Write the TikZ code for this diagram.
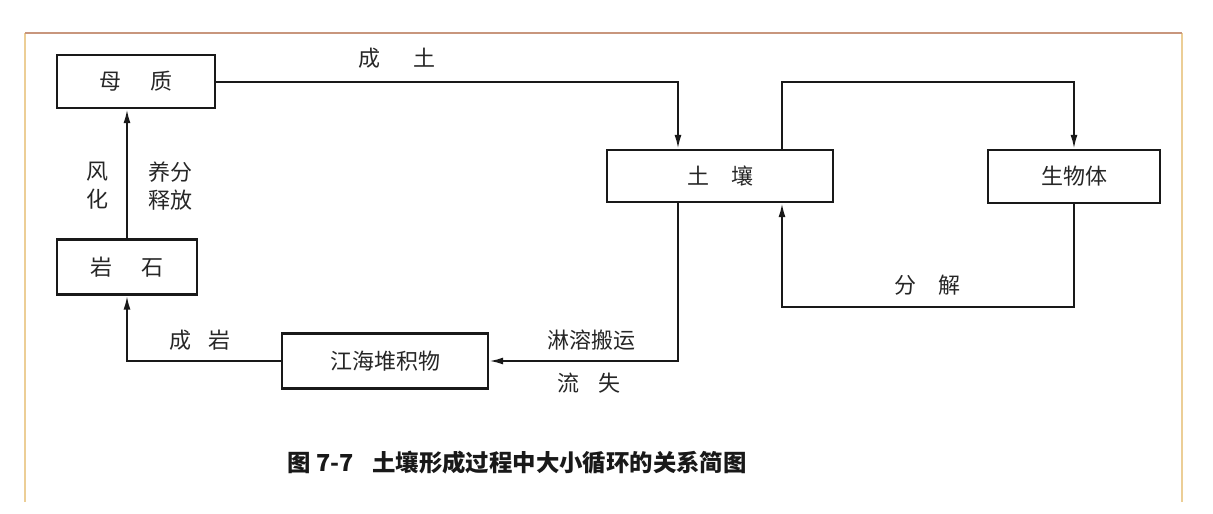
\documentclass[tikz,border=0pt]{standalone}
\usepackage{fontspec}
\usepackage{xcolor}
\usepackage{tikz}
\usetikzlibrary{arrows.meta,positioning,calc}
\setmainfont{Noto Sans CJK SC}
\newfontfamily\cjk{Noto Sans CJK SC}
\definecolor{frametop}{RGB}{200,150,125}
\definecolor{frameside}{RGB}{236,206,150}

\begin{document}
\begin{tikzpicture}[
  x=1pt, y=-1pt,
  box/.style={rectangle, draw=black!90, line width=2.4pt, fill=white, inner sep=0pt, font=\cjk\fontsize{22}{26}\selectfont, text=black!85},
  lbl/.style={font=\cjk\fontsize{22}{28}\selectfont, text=black!85, align=center, inner sep=0pt},
  captext/.style={font=\cjk\bfseries\fontsize{23.4}{28}\selectfont, text=black!90, inner sep=0pt},
  arr/.style={-{Latex[length=14pt,width=7pt]}, line width=2pt, draw=black!90}
]
\useasboundingbox (0,0) rectangle (1213,514);
% frame of the scanned page
\draw[frameside, line width=1.6pt] (25,33) -- (25,502);
\draw[frameside, line width=1.6pt] (1182,33) -- (1182,502);
\draw[frametop, line width=1.6pt] (25,33) -- (1182,33);

\node[box, minimum width=158pt, minimum height=53pt] (mz)  at (136,81.5) {母\hspace{1.3em}质};
\node[box, minimum width=140pt, minimum height=55pt] (ys)  at (127,267)  {岩\hspace{1.3em}石};
\node[box, minimum width=226pt, minimum height=52pt] (tr)  at (720,176)  {土\hspace{1em}壤};
\node[box, minimum width=172pt, minimum height=53pt] (swt) at (1074,176.5) {生物体};
\node[box, minimum width=206pt, minimum height=55pt] (jh)  at (385,361)  {江海堆积物};

% big cycle
\draw[arr] (ys.north) -- (ys.north |- mz.south);
\draw[arr] (mz.east) -| ([xshift=-42pt]tr.north);
\draw[arr] ([xshift=-42pt]tr.south) |- (jh.east);
\draw[arr] (jh.west) -| (ys.south);
% small cycle
\draw[arr] ([xshift=62pt]tr.north) |- (swt.north |- mz.east) -- (swt.north);
\draw[arr] (swt.south) -- ++(0,103) -| ([xshift=62pt]tr.south);

\node[lbl] (l_ft)  at (97,186)  {风\\化};
\node[lbl] (l_yf)  at (170,186) {养分\\释放};
\node[lbl] (l_ct)  at (397,58)  {成\hspace{1.5em}土};
\node[lbl] (l_cy)  at (200,340) {成\hspace{0.8em}岩};
\node[lbl] (l_lr)  at (591,340) {淋溶搬运};
\node[lbl] (l_ls)  at (589,383) {流\hspace{0.9em}失};
\node[lbl] (l_fj)  at (927,285) {分\hspace{1em}解};

\node[captext] (caption) at (517,463) {图 7-7\hspace{0.8em}土壤形成过程中大小循环的关系简图};
\end{tikzpicture}
\end{document}
